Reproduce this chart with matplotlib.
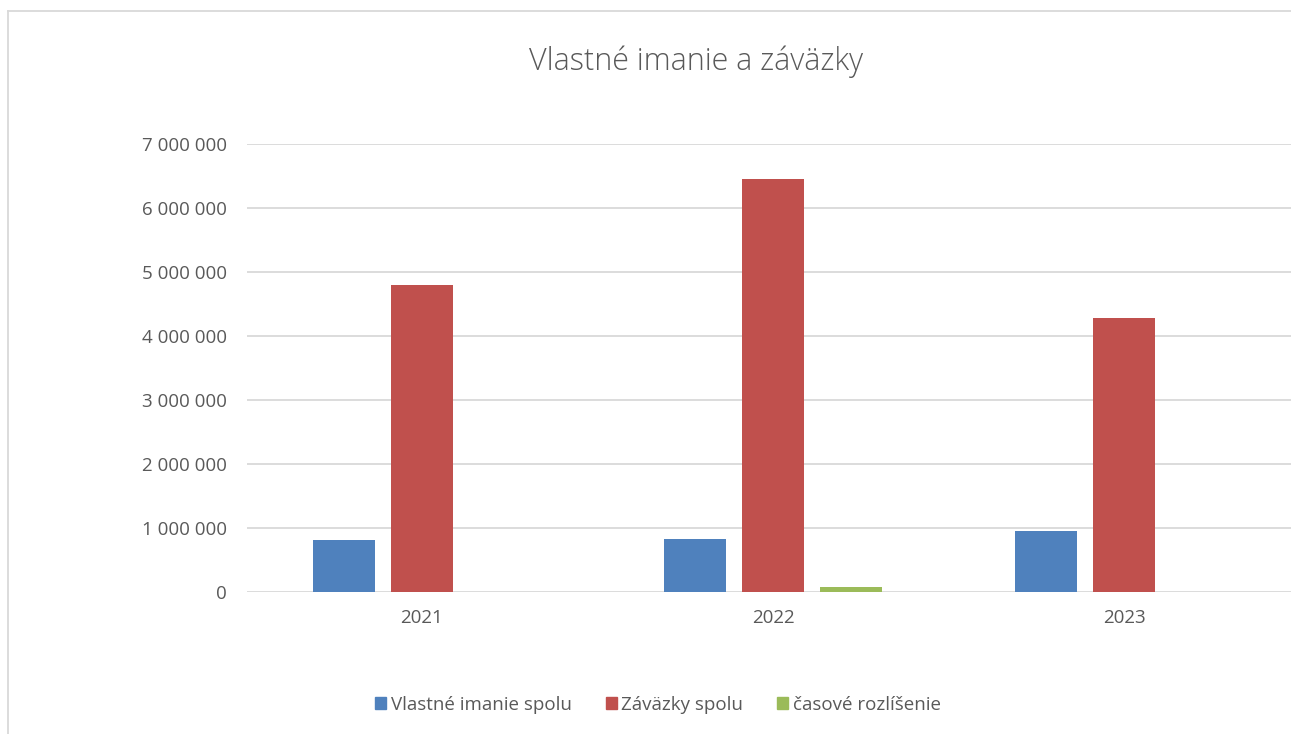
import matplotlib.pyplot as plt
import numpy as np
from matplotlib.lines import Line2D
from matplotlib.ticker import FuncFormatter

# data
years = ['2021', '2022', '2023']
vlastne_imanie = [815000, 830000, 955000]
zavazky = [4800000, 6455000, 4285000]
casove_rozlisenie = [0, 85000, 0]

series = [
    ('Vlastné imanie spolu', vlastne_imanie, '#4F81BD'),
    ('Záväzky spolu', zavazky, '#C0504D'),
    ('časové rozlíšenie', casove_rozlisenie, '#9BBB59'),
]

plt.rcParams['font.family'] = ['Open Sans', 'DejaVu Sans']
text_color = '#595959'
grid_color = '#d9d9d9'

fig = plt.figure(figsize=(12.91, 7.34), dpi=100)
ax = fig.add_axes([246.5 / 1291, 142 / 734, 1053 / 1291, 448 / 734])

x = np.arange(len(years))
width = 0.177
offsets = [-0.222, 0, 0.222]
for (label, values, color), off in zip(series, offsets):
    ax.bar(x + off, values, width, color=color, label=label, zorder=3)

ax.set_xlim(-0.5, len(years) - 0.5)
ax.set_ylim(0, 7000000)
ax.set_yticks(np.arange(0, 7000001, 1000000))
ax.yaxis.set_major_formatter(FuncFormatter(lambda v, p: f'{int(v):,}'.replace(',', ' ')))
ax.set_xticks(x)
ax.set_xticklabels(years)
ax.grid(axis='y', color=grid_color, linewidth=1.3, zorder=0)
for s in ax.spines.values():
    s.set_visible(False)
ax.tick_params(length=0, labelsize=13.5, colors=text_color)
ax.tick_params(axis='x', pad=12)
ax.tick_params(axis='y', pad=14)

fig.text(696 / 1291, 1 - 62 / 734, 'Vlastné imanie a záväzky', ha='center', va='center',
         fontsize=22, color=text_color, fontweight='light')

handles = [plt.Rectangle((0, 0), 1, 1, color=c) for _, _, c in series]
fig.legend(handles, [s[0] for s in series], loc='center', bbox_to_anchor=(658 / 1291, 1 - 705 / 734),
           ncol=3, frameon=False, fontsize=13.5, handlelength=0.6, handleheight=0.6,
           handletextpad=0.25, columnspacing=1.8, labelcolor=text_color)

# chart frame
fig.add_artist(Line2D([8 / 1291, 8 / 1291], [0, 1 - 11 / 734], transform=fig.transFigure,
                      color=grid_color, linewidth=1.3))
fig.add_artist(Line2D([8 / 1291, 1], [1 - 11 / 734, 1 - 11 / 734], transform=fig.transFigure,
                      color=grid_color, linewidth=1.3))

fig.savefig('out.png', dpi=100)
